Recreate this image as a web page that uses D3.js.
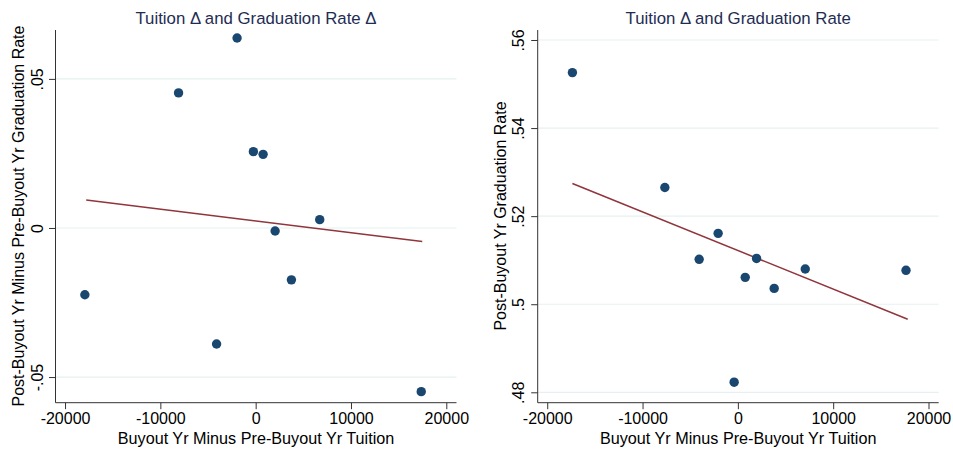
<!DOCTYPE html>
<html>
<head>
<meta charset="utf-8">
<script src="https://cdn.jsdelivr.net/npm/d3@7"></script>
<style>
  html, body { margin: 0; padding: 0; background: #fff; }
  svg { display: block; font-family: 'Liberation Sans', Arial, sans-serif; }
</style>
</head>
<body>
<div id="chart"></div>
<script>
// Tuition change (x) shared by both panels
const tuitionDeltaLeft = [-1950, -8090, -240, 780, 6720, 2040, 3750, -17920, -4100, 17370];
const gradRateDelta = [0.0637, 0.0453, 0.0256, 0.0247, 0.0028, -0.0010, -0.0174, -0.0224, -0.0389, -0.0549];

const tuitionDeltaRight = [-17360, -7660, -2070, -4060, 1960, 770, 3810, 7070, 17640, -390];
const gradRate = [0.5526, 0.5265, 0.5161, 0.5102, 0.5104, 0.5061, 0.5036, 0.5080, 0.5077, 0.4823];

// fitted line endpoints
const fitLeftX = [-17780, 17480];
const fitLeftY = [0.0094, -0.0045];
const fitRightX = [-17360, 17820];
const fitRightY = [0.5274, 0.4966];

const xTicks = [-20000, -10000, 0, 10000, 20000];
const yTicksLeft = [-0.05, 0, 0.05];
const yTicksRight = [0.48, 0.5, 0.52, 0.54, 0.56];

const width = 953;
const height = 450;

const svg = d3.select('#chart').append('svg')
  .attr('width', width)
  .attr('height', height);

function fmtX(v) {
  return String(v);
}

function fmtY(v) {
  if (v === 0) return '0';
  return String(+v.toFixed(2)).replace('0.', '.');
}

function drawPanel(opts) {
  const x = d3.scaleLinear().domain([-21000, 21070]).range([opts.left, opts.right]);
  const y = d3.scaleLinear().domain(opts.yDomain).range([402.7, 30]);

  const g = svg.append('g');

  // grid
  g.append('g')
    .selectAll('line')
    .data(opts.yTicks)
    .join('line')
    .attr('x1', opts.left)
    .attr('x2', opts.right)
    .attr('y1', d => y(d))
    .attr('y2', d => y(d))
    .attr('stroke', '#e6f0f1')
    .attr('stroke-width', 1.2);

  // x axis
  const xAxis = g.append('g')
    .attr('transform', 'translate(0,402.7)')
    .call(d3.axisBottom(x).tickValues(xTicks).tickSize(6.5).tickPadding(3).tickFormat(fmtX));
  xAxis.select('.domain').attr('d', `M${opts.left},0H${opts.right}`).attr('stroke', '#333');
  xAxis.selectAll('.tick line').attr('stroke', '#333');
  xAxis.selectAll('text').attr('font-size', 16).attr('fill', '#000').attr('font-family', 'Liberation Sans, Arial, sans-serif');

  // y axis
  const yAxis = g.append('g')
    .attr('transform', `translate(${opts.left},0)`)
    .call(d3.axisLeft(y).tickValues(opts.yTicks).tickSize(6.5).tickFormat(fmtY));
  yAxis.select('.domain').attr('d', 'M0,30V402.7').attr('stroke', '#333');
  yAxis.selectAll('.tick line').attr('stroke', '#333');
  yAxis.selectAll('text')
    .attr('font-size', 16)
    .attr('fill', '#000')
    .attr('font-family', 'Liberation Sans, Arial, sans-serif')
    .attr('text-anchor', 'middle')
    .attr('x', 0)
    .attr('dy', '0')
    .attr('transform', `translate(${opts.yLabelX - opts.left},0) rotate(-90) translate(0,6)`);

  // fit line
  g.append('line')
    .attr('x1', x(opts.fitX[0]))
    .attr('y1', y(opts.fitY[0]))
    .attr('x2', x(opts.fitX[1]))
    .attr('y2', y(opts.fitY[1]))
    .attr('stroke', '#90353b')
    .attr('stroke-width', 1.5);

  // points
  g.append('g')
    .selectAll('circle')
    .data(opts.xs.map((v, i) => [v, opts.ys[i]]))
    .join('circle')
    .attr('cx', d => x(d[0]))
    .attr('cy', d => y(d[1]))
    .attr('r', 4.7)
    .attr('fill', '#1a476f');

  // title
  g.append('text')
    .attr('x', (opts.left + opts.right) / 2)
    .attr('y', 24)
    .attr('text-anchor', 'middle')
    .attr('font-size', 16.8)
    .attr('fill', '#1e2d53')
    .text(opts.title);

  // axis titles
  g.append('text')
    .attr('x', (opts.left + opts.right) / 2)
    .attr('y', 444)
    .attr('text-anchor', 'middle')
    .attr('font-size', 16.2)
    .attr('fill', '#000')
    .text('Buyout Yr Minus Pre-Buyout Yr Tuition');

  g.append('text')
    .attr('transform', `translate(${opts.yTitleX},216) rotate(-90)`)
    .attr('text-anchor', 'middle')
    .attr('dy', '0.35em')
    .attr('font-size', 16)
    .attr('fill', '#000')
    .text(opts.yTitle);
}

drawPanel({
  left: 55.5,
  right: 456.5,
  yDomain: [-0.0586, 0.0664],
  yTicks: yTicksLeft,
  xs: tuitionDeltaLeft,
  ys: gradRateDelta,
  fitX: fitLeftX,
  fitY: fitLeftY,
  yLabelX: 36.7,
  yTitleX: 18.3,
  title: 'Tuition Δ and Graduation Rate Δ',
  yTitle: 'Post-Buyout Yr Minus Pre-Buyout Yr Graduation Rate'
});

drawPanel({
  left: 537.7,
  right: 938.7,
  yDomain: [0.47764, 0.56227],
  yTicks: yTicksRight,
  xs: tuitionDeltaRight,
  ys: gradRate,
  fitX: fitRightX,
  fitY: fitRightY,
  yLabelX: 518.3,
  yTitleX: 500,
  title: 'Tuition Δ and Graduation Rate',
  yTitle: 'Post-Buyout Yr Graduation Rate'
});
</script>
</body>
</html>
